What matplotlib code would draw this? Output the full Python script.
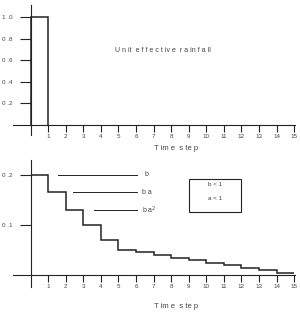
import matplotlib
matplotlib.use("Agg")
import matplotlib.pyplot as plt
from matplotlib.patches import Rectangle

plt.rcParams['font.family'] = ['Liberation Sans', 'DejaVu Sans']

# data
rain_edges = [0, 1]
rain_values = [1.0]

steps = list(range(16))
runoff = [0.2, 0.165, 0.13, 0.1, 0.07, 0.05, 0.046, 0.040, 0.035,
          0.030, 0.025, 0.020, 0.015, 0.010, 0.005]

xticks = list(range(1, 16))
top_yticks = [0.2, 0.4, 0.6, 0.8, 1.0]
top_ylabels = ["0 .2", "0 .4", "0 .6", "0 .8", "1 .0"]
bot_yticks = [0.1, 0.2]
bot_ylabels = ["0 .1", "0 .2"]

txt = "#444444"
lc = "#222222"

fig = plt.figure(figsize=(3.0, 3.13), dpi=100)
ax1 = fig.add_axes([0.0433, 0.5687, 0.94, 0.4153])
ax2 = fig.add_axes([0.0433, 0.083, 0.94, 0.406])


def style(ax, yt, yl):
    for s in ['top', 'right']:
        ax.spines[s].set_visible(False)
    ax.spines['left'].set_position(('data', 0))
    ax.spines['bottom'].set_position(('data', 0))
    for s in ['left', 'bottom']:
        ax.spines[s].set_linewidth(0.8)
        ax.spines[s].set_color(lc)
    ax.set_xticks(xticks)
    ax.set_xticklabels([str(i) for i in xticks])
    ax.set_yticks(yt)
    ax.set_yticklabels(yl)
    ax.tick_params(axis='x', direction='out', length=5, width=0.8,
                   pad=1.5, labelsize=4.5, colors=lc, labelcolor=txt)
    ax.tick_params(axis='y', direction='out', length=8, width=0.8,
                   pad=5, labelsize=4.5, colors=lc, labelcolor=txt)
    ax.set_xlim(-1.0, 15.05)
    ax.set_facecolor('none')


# top: unit effective rainfall
ax1.stairs(rain_values, rain_edges, baseline=0, color=lc, lw=1.1)
style(ax1, top_yticks, top_ylabels)
ax1.set_ylim(-0.093, 1.11)
ax1.text(4.8, 0.69, "U n it  e f f e c t iv e  r a in f a ll", fontsize=5,
         color=txt, va='center', ha='left')
ax1.text(8.3, -0.22, "T im e  s te p", fontsize=5.5, color=txt,
         ha='center', va='center', clip_on=False)

# bottom: runoff response
ax2.stairs(runoff, steps, baseline=None, color=lc, lw=1.1)
style(ax2, bot_yticks, bot_ylabels)
ax2.set_ylim(-0.024, 0.23)

ax2.plot([1.58, 6.04], [runoff[0], runoff[0]], color=lc, lw=0.7)
ax2.plot([2.4, 6.04], [runoff[1], runoff[1]], color=lc, lw=0.7)
ax2.plot([3.63, 6.04], [runoff[2], runoff[2]], color=lc, lw=0.7)
ax2.text(6.5, runoff[0], "b", fontsize=5, color=txt, va='center')
ax2.text(6.35, runoff[1], "b a", fontsize=5, color=txt, va='center')
ax2.text(6.35, runoff[2], "b a$^{2}$", fontsize=5, color=txt, va='center')

ax2.add_patch(Rectangle((9.0, 0.125), 3.0, 0.066, fill=False,
                        edgecolor=lc, lw=0.8))
ax2.text(10.5, 0.181, "b < 1", fontsize=4.5, color=txt, ha='center', va='center')
ax2.text(10.5, 0.153, "a < 1", fontsize=4.5, color=txt, ha='center', va='center')

ax2.text(8.3, -0.063, "T im e  s te p", fontsize=5.5, color=txt,
         ha='center', va='center', clip_on=False)

fig.savefig("out.png", dpi=100)
